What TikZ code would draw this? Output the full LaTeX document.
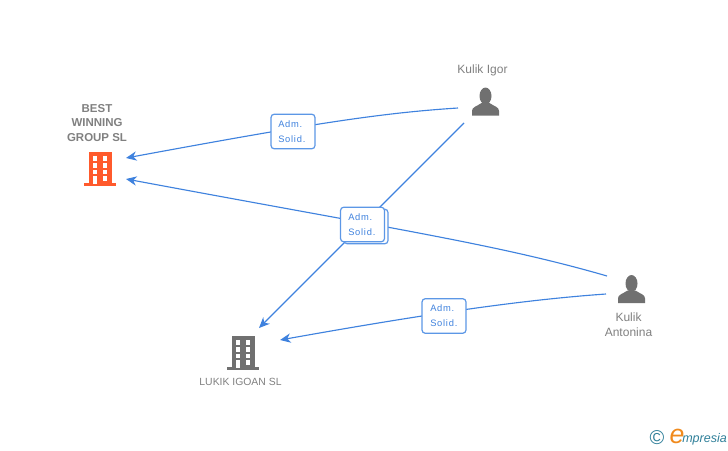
\documentclass[tikz,border=0pt]{standalone}
\usepackage{fontspec}
\setmainfont{Liberation Sans}
\usetikzlibrary{arrows.meta}
\definecolor{linkblue}{HTML}{3F82DE}
\definecolor{boxblue}{HTML}{5C97E6}
\definecolor{textgray}{HTML}{808080}
\definecolor{icongray}{HTML}{707070}
\definecolor{iconred}{HTML}{FF5A2C}
\definecolor{logoteal}{HTML}{2F7F99}
\definecolor{logoorange}{HTML}{F08A1D}
\tikzset{
  link/.style={draw=linkblue,line width=0.85pt,-{Stealth[length=8pt,width=7pt,inset=2.5pt]}},
  admbox/.style={draw=boxblue,fill=white,rounded corners=2.5pt,line width=0.9pt,minimum width=33pt,minimum height=26pt,inner sep=0pt,text=linkblue},
  admtext/.style={text=linkblue,anchor=west,align=left,inner sep=0pt,font=\fontsize{7}{11.2}\selectfont\addfontfeature{LetterSpace=8}},
  entity/.style={text=textgray,align=center,inner sep=0pt},
  pics/building/.style={code={
    \fill [#1] (-11.5,0) rectangle (11.5,32);
    \fill [#1] (-16,31) rectangle (16,34);
    \foreach \wy in {4,11,17.5} {
      \fill [white] (-7.5,\wy) rectangle (-3,\wy+4.5);
    }
    \foreach \wy in {4,11,17.5,24} {
      \fill [white] (2.5,\wy) rectangle (7,\wy+4.5);
    }
    \fill [white] (-7.5,24) rectangle (-3,32);
  }},
  pics/person/.style={code={
    \fill [icongray] (0,8) ellipse (6 and 8.5);
    \fill [icongray] (-13.5,27.5) -- (-13.5,23) .. controls (-13.5,19) and (-9,18.5) .. (-4,15) -- (4,15) .. controls (9,18.5) and (13.5,19) .. (13.5,23) -- (13.5,27.5) -- cycle;
  }}
}
\begin{document}
\begin{tikzpicture}[x=0.75pt,y=-0.75pt]
\useasboundingbox (0,0) rectangle (728,450);

% icons
\pic at (100,152) {building=iconred};
\pic at (243,336) {building=icongray};
\pic at (485.5,88) {person};
\pic at (631.5,275.5) {person};

% names
\node [entity,font=\fontsize{8.6}{11.2}\selectfont\bfseries] (best) at (97,123) {BEST\\WINNING\\GROUP SL};
\node [entity,font=\fontsize{7.8}{11}\selectfont] (lukik) at (240.5,382) {LUKIK IGOAN SL};
\node [entity,font=\fontsize{9}{11}\selectfont] (igor) at (482.5,70.5) {Kulik Igor};
\node [entity,font=\fontsize{9}{11.2}\selectfont] (antonina) at (628.5,324.5) {Kulik\\Antonina};

% ends of the links
\coordinate (igorout) at (458,108);
\coordinate (igordown) at (464,123);
\coordinate (antout) at (607,276);
\coordinate (antlow) at (606,294);
\coordinate (bestupper) at (126,158);
\coordinate (bestlower) at (126,179);
\coordinate (lukikupper) at (259,328);
\coordinate (lukiklower) at (280,340);

\draw [link] (igorout) .. controls (380,113) and (310,124) .. (bestupper);
\draw [link] (antout) .. controls (500,245) and (400,230) .. (bestlower);
\draw [link] (igordown) -- (lukikupper);
\draw [link] (antlow) .. controls (520,300) and (420,315) .. (lukiklower);

% labels
\node [admbox] (adm1) at (293,131.5) {};
\node [admtext] (adm1txt) at (278,132) {Adm.\\Solid.};
\node [admbox] (adm2b) at (366,226.5) {};
\node [admbox] (adm2) at (362.5,224.5) {};
\node [admtext] (adm2txt) at (348,224.5) {Adm.\\Solid.};
\node [admbox] (adm3) at (444,316) {};
\node [admtext] (adm3txt) at (430,316) {Adm.\\Solid.};

% logo
\node [text=logoteal,inner sep=0pt,font=\fontsize{15}{16}\selectfont] (copyr) at (657,438) {©};
\node [text=logoorange,inner sep=0pt,font=\fontsize{20}{21}\selectfont\itshape] (logoe) at (677,436.5) {e};
\node [text=logoteal,inner sep=0pt,anchor=west,font=\fontsize{9.4}{10}\selectfont\itshape] (logotxt) at (682,439.5) {mpresia};
\end{tikzpicture}
\end{document}
